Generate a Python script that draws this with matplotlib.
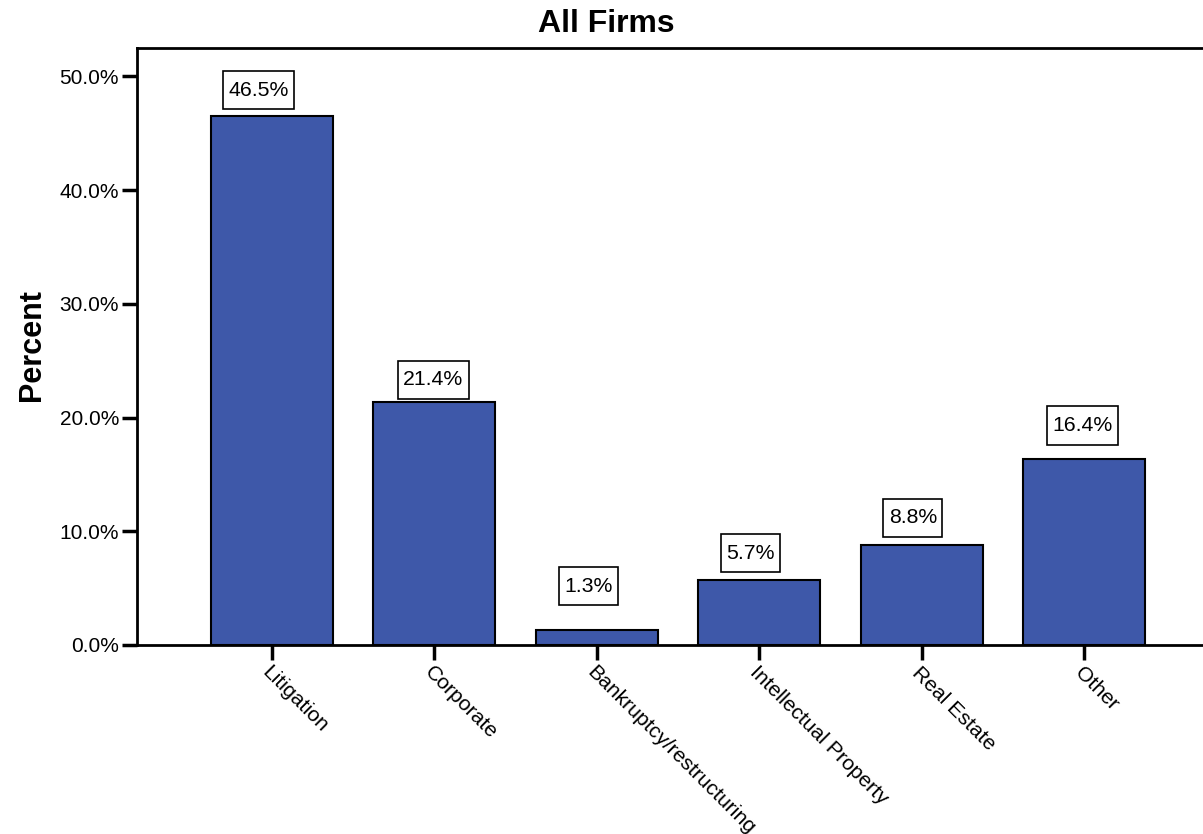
import matplotlib.pyplot as plt
from matplotlib.ticker import FuncFormatter

plt.rcParams['font.family'] = ['Liberation Sans', 'DejaVu Sans']

categories = ['Litigation', 'Corporate', 'Bankruptcy/restructuring',
              'Intellectual Property', 'Real Estate', 'Other']
percents = [46.5, 21.4, 1.3, 5.7, 8.8, 16.4]
y_ticks = [0, 10, 20, 30, 40, 50]

# label box offsets from the bar top, in pixels
label_dx = [-13, -1, -8, -9, -9, -2]
label_dy = [26, 22, 44, 27, 27, 33]

W, H = 1203, 834
fig = plt.figure(figsize=(W / 100, H / 100), dpi=100)
ax = fig.add_axes([137 / W, 1 - 645 / H, (W - 137) / W, (645 - 48) / H])

x = range(len(categories))
bars = ax.bar(x, percents, width=0.75, color='#3e58a9', edgecolor='black', linewidth=1.5)

# value boxes above each bar
for rect, v, dx, dy in zip(bars, percents, label_dx, label_dy):
    ax.annotate(f'{v:.1f}%', (rect.get_x() + rect.get_width() / 2, v),
                xytext=(dx * 0.72, dy * 0.72), textcoords='offset points',
                ha='center', va='center', fontsize=15.3,
                bbox=dict(boxstyle='square,pad=0.25', fc='white', ec='black', lw=1.2,
                          mutation_aspect=1.8))

ax.set_xlim(-0.83, 5.73)
ax.set_ylim(0, 52.5)
ax.set_yticks(y_ticks)
ax.yaxis.set_major_formatter(FuncFormatter(lambda v, p: f'{v:.1f}%'))
ax.tick_params(axis='y', direction='out', length=11, width=2.5, labelsize=15, pad=2)
ax.tick_params(axis='x', direction='out', length=11, width=2.5, pad=2)

ax.set_xticks(list(x))
ax.set_xticklabels(categories, rotation=-45, ha='left', va='top',
                   rotation_mode='anchor', fontsize=15.2)

for side in ['left', 'top', 'bottom']:
    ax.spines[side].set_linewidth(2)
ax.spines['right'].set_visible(False)

fig.text(32 / W, 1 - 345 / H, 'Percent', ha='center', va='center', rotation=90,
         fontsize=22, fontweight='bold')
fig.text(606 / W, 1 - 24 / H, 'All Firms', ha='center', va='center',
         fontsize=23, fontweight='bold')

fig.savefig('out.png', dpi=100)
